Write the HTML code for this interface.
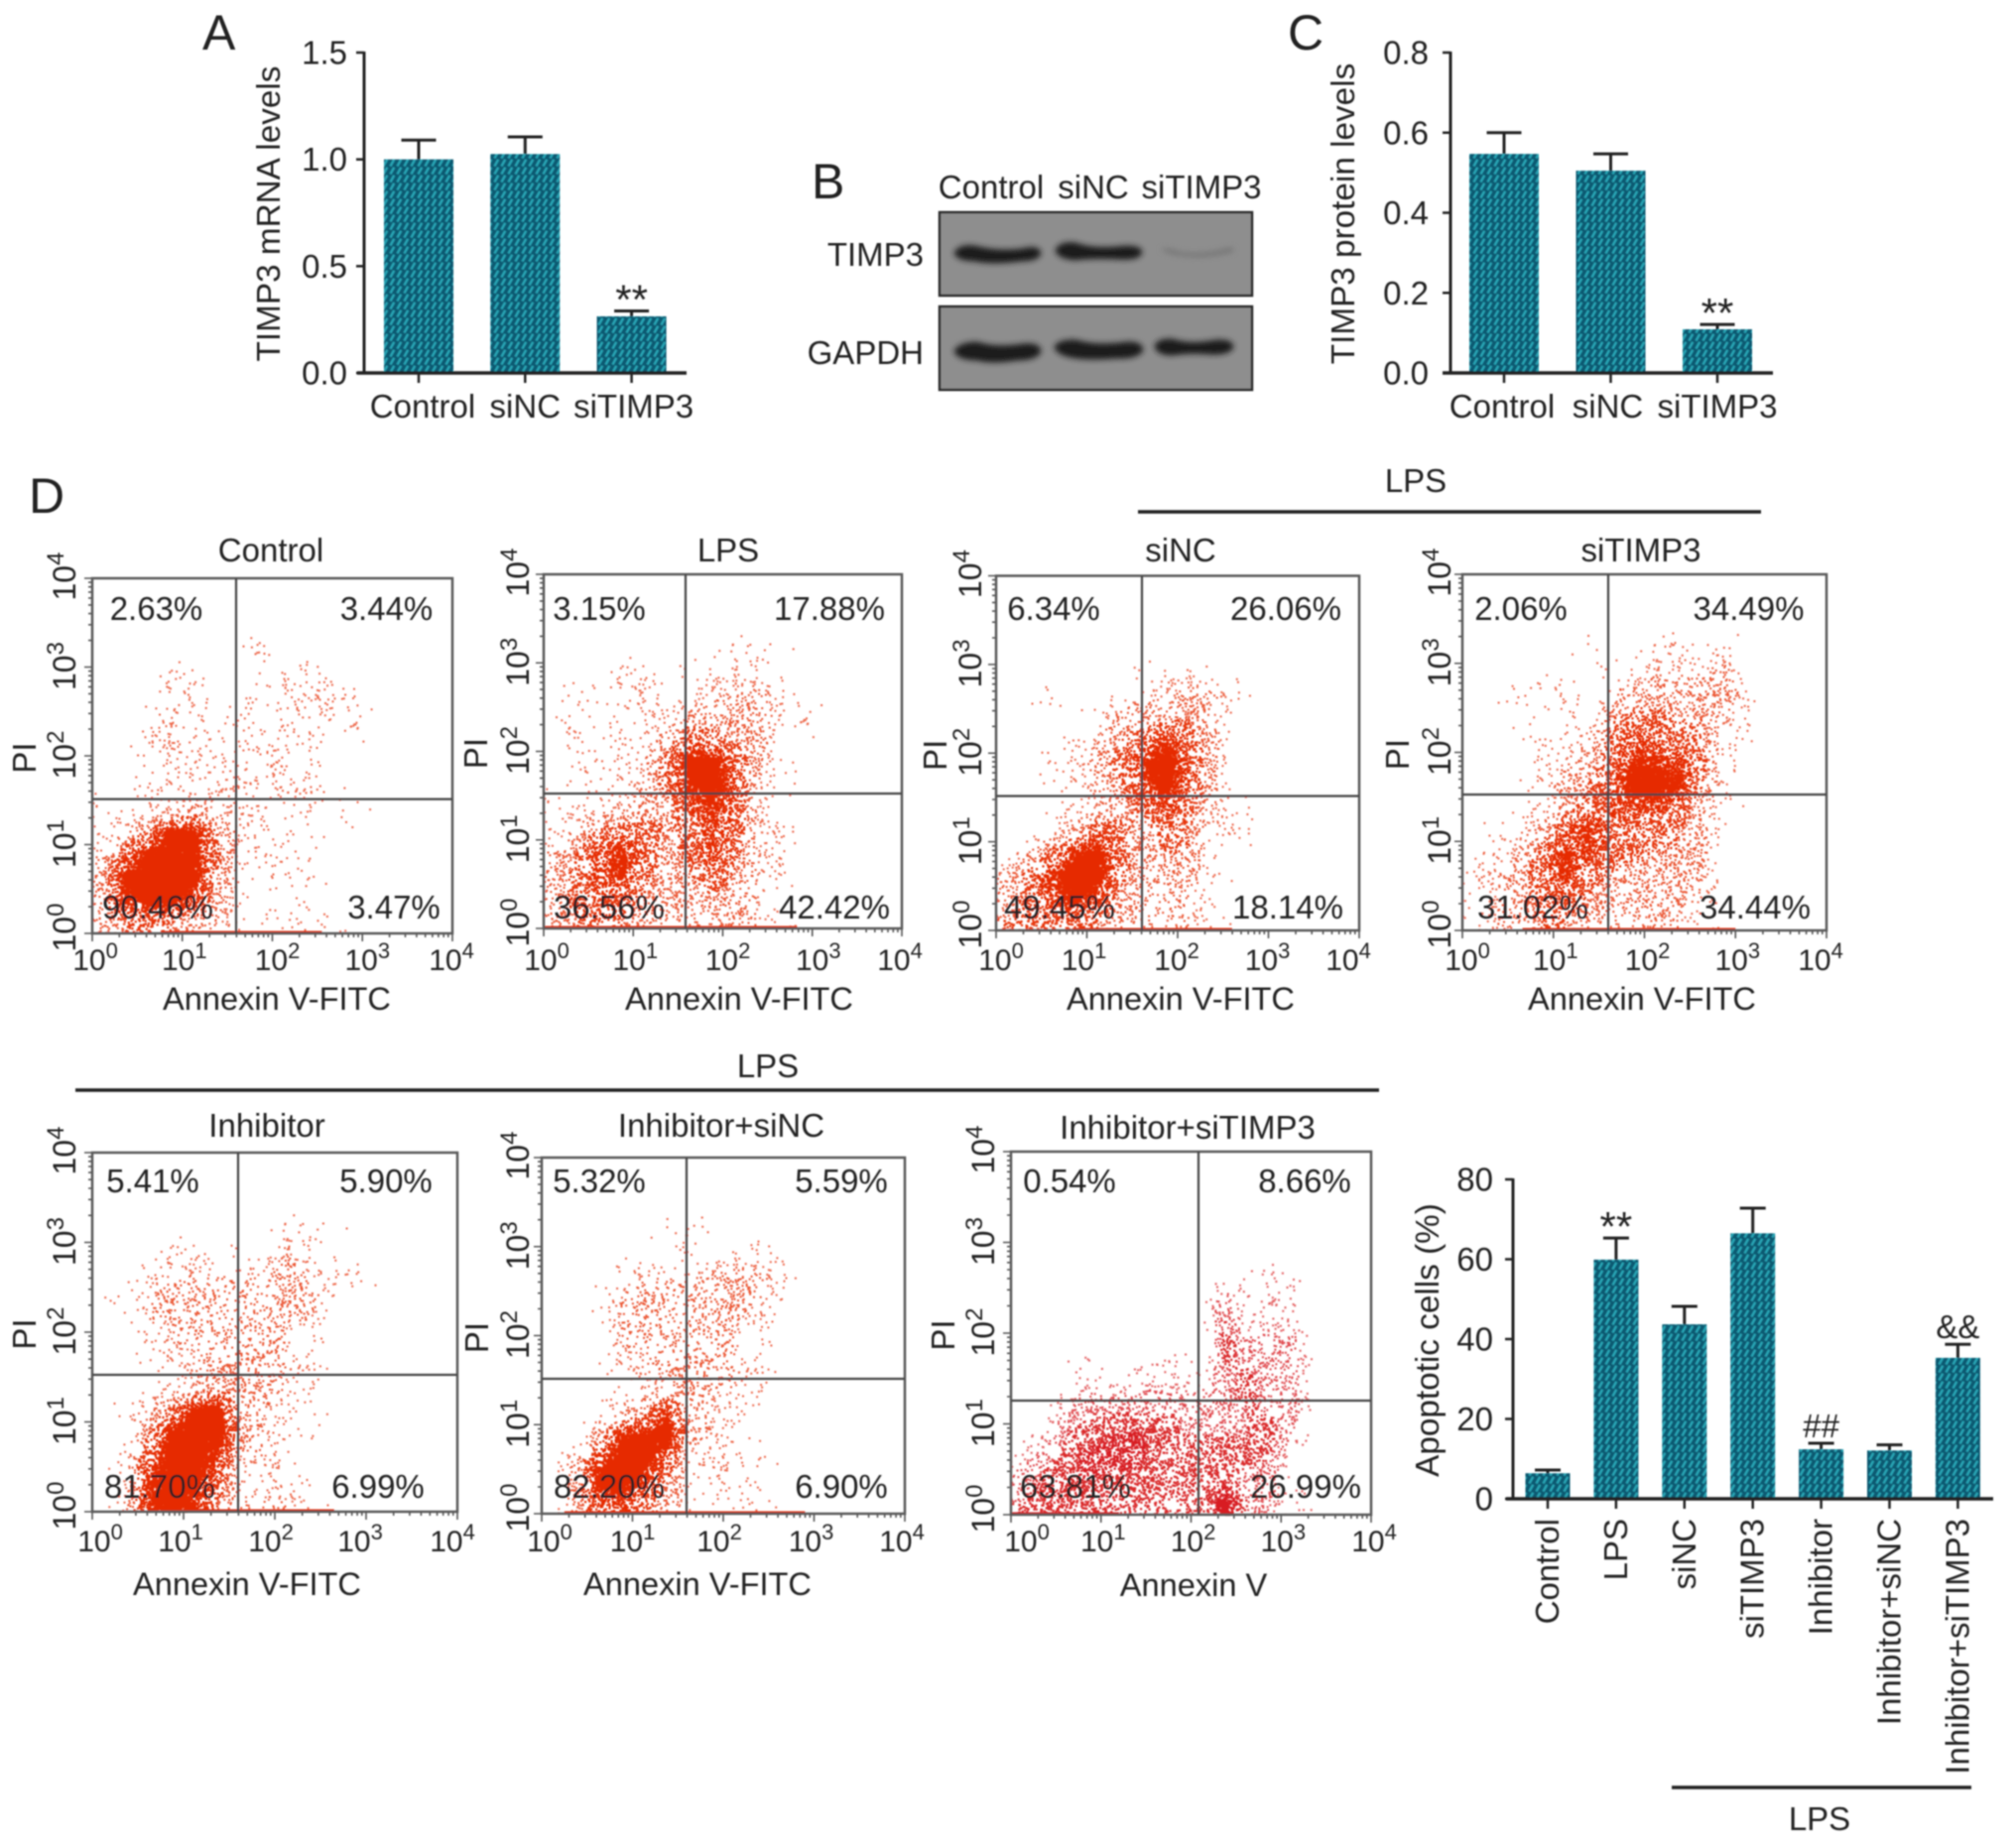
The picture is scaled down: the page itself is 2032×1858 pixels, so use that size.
<!DOCTYPE html>
<html lang="en">
<head>
<meta charset="utf-8">
<title>TIMP3 knockdown figure</title>
<style>
html,body{margin:0;padding:0;background:#fff;width:2032px;height:1858px;overflow:hidden}
svg{display:block}
text{font-family:"Liberation Sans",sans-serif;fill:#222;font-size:33px}
</style>
</head>
<body>
<svg id="figure" xmlns="http://www.w3.org/2000/svg" width="2032" height="1858" viewBox="0 0 2032 1858">
  <defs>
    <pattern id="hatch" patternUnits="userSpaceOnUse" width="7" height="8">
      <rect width="7" height="8" fill="#0b5a72"/>
      <path d="M1.5 7.5L5.2 .8" stroke="#27a5b5" stroke-width="2.3"/>
    </pattern>
    <filter id="soft" x="-2%" y="-2%" width="104%" height="104%"><feGaussianBlur stdDeviation="0.7"/></filter>
    <filter id="blotBlur" x="-20%" y="-60%" width="140%" height="220%"><feGaussianBlur stdDeviation="2.8"/></filter>
  </defs>
  <g id="art" filter="url(#soft)">
    <text x="204" y="50" style="font-size:50px">A</text>
    <text x="818" y="200" style="font-size:50px">B</text>
    <text x="1298" y="50" style="font-size:50px">C</text>
    <text x="29" y="517" style="font-size:50px">D</text>

    <g>
      <text x="999" y="200" text-anchor="middle">Control</text>
      <text x="1102" y="200" text-anchor="middle">siNC</text>
      <text x="1211" y="200" text-anchor="middle">siTIMP3</text>
      <text x="931" y="268" text-anchor="end">TIMP3</text>
      <text x="931" y="367" text-anchor="end">GAPDH</text>
      <rect x="947" y="214" width="315" height="84" fill="#8e8e8e" stroke="#2b2b2b" stroke-width="2.5"/>
      <rect x="947" y="309" width="315" height="84" fill="#8e8e8e" stroke="#2b2b2b" stroke-width="2.5"/>
      <g filter="url(#blotBlur)" fill="#1d1d1d" stroke="#1d1d1d" stroke-width="3">
        <path d="M963 255Q968 247 982 249Q1005 255 1030 252Q1046 248 1048 255Q1046 262 1030 262Q1000 266 982 262Q966 262 963 255Z"/>
        <path d="M1065 252Q1070 244 1084 246Q1100 252 1125 250Q1148 247 1150 254Q1148 262 1125 260Q1100 259 1084 261Q1067 260 1065 252Z"/>
        <path d="M1170 251Q1178 249 1190 254Q1215 257 1240 249Q1246 251 1243 254Q1215 262 1190 258Q1175 256 1170 251Z" fill="#777" stroke="none"/>
        <path d="M963 354Q968 346 985 346Q1005 352 1030 348Q1047 346 1048 354Q1045 362 1025 362Q1000 366 985 362Q966 362 963 354Z"/>
        <path d="M1064 350Q1068 343 1085 344Q1105 350 1135 346Q1150 345 1151 353Q1146 361 1125 360Q1100 362 1085 360Q1067 358 1064 350Z"/>
        <path d="M1165 349Q1168 342 1182 343Q1200 349 1225 344Q1242 343 1242 350Q1238 357 1220 356Q1200 354 1182 357Q1167 357 1165 349Z"/>
      </g>
    </g>

    <g>
      <path d="M1147 516H1775" stroke="#222" stroke-width="3.5" fill="none"/>
      <text x="1427" y="496" text-anchor="middle">LPS</text>
      <path d="M76 1099H1390" stroke="#222" stroke-width="3.5" fill="none"/>
      <text x="774" y="1086" text-anchor="middle">LPS</text>
      <path d="M1685 1802H1987" stroke="#222" stroke-width="3.5" fill="none"/>
      <text x="1834" y="1845" text-anchor="middle">LPS</text>
    </g>
  </g>
</svg>

<script>
/* ---------- bar chart data ---------- */
const categoriesA = ["Control", "siNC", "siTIMP3"];
const valuesA = [1.0, 1.025, 0.265];
const errorsA = [0.09, 0.08, 0.025];
const marksA = ["", "", "**"];
const ticksA = [0, 0.5, 1.0, 1.5];

const categoriesC = ["Control", "siNC", "siTIMP3"];
const valuesC = [0.547, 0.505, 0.109];
const errorsC = [0.053, 0.042, 0.012];
const marksC = ["", "", "**"];
const ticksC = [0, 0.2, 0.4, 0.6, 0.8];

const categoriesD = ["Control", "LPS", "siNC", "siTIMP3", "Inhibitor", "Inhibitor+siNC", "Inhibitor+siTIMP3"];
const valuesD = [6.4, 59.9, 43.7, 66.5, 12.4, 12.1, 35.3];
const errorsD = [0.8, 5.4, 4.5, 6.3, 1.5, 1.4, 3.4];
const marksD = ["", "**", "", "", "##", "", "&&"];
const ticksD = [0, 20, 40, 60, 80];

/* ---------- flow cytometry data: quadrant percentages ---------- */
const pctControl = ["2.63%", "3.44%", "90.46%", "3.47%"];
const pctLps = ["3.15%", "17.88%", "36.56%", "42.42%"];
const pctSinc = ["6.34%", "26.06%", "49.45%", "18.14%"];
const pctSitimp3 = ["2.06%", "34.49%", "31.02%", "34.44%"];
const pctInhibitor = ["5.41%", "5.90%", "81.70%", "6.99%"];
const pctInhibitorSinc = ["5.32%", "5.59%", "82.20%", "6.90%"];
const pctInhibitorSitimp3 = ["0.54%", "8.66%", "63.81%", "26.99%"];

/* Event density (0-9) in quarter-decade bins, estimated by eye.
   Outer index = row from the top (10^4 down to 10^0); inner index = column from 10^0. */
const densityControl = [[],[],[],
[0,0,0,0,0,0,0,1],
[0,0,0,1,1,0,0,0,1,1,1],
[0,0,0,1,1,0,1,1,1,2,2,1],
[0,0,1,2,1,0,1,1,1,1,1,1],
[0,0,2,2,1,1,1,1,1,1],
[0,0,0,1,2,1,1,1,2,1],
[0,0,1,1,1,1,2,1,2,2,1],
[1,0,1,2,3,2,1,1,1,1,0,1],
[1,2,5,9,9,4,2,1,1],
[2,6,9,9,9,5,1,1,1,1],
[3,9,9,9,9,4,1,0,1,1],
[3,8,9,9,7,3,1,0,0,1],
[3,4,5,4,3,2,1,1,1,1,1]];
const densityLps = [[],[],[],
[0,0,0,0,0,0,0,0,1,0,1],
[0,0,0,1,1,0,1,1,1,1],
[0,1,0,1,2,1,1,2,2,3,1],
[0,1,1,1,2,1,3,3,3,3,2,1],
[0,1,0,1,1,3,6,5,4,3,1],
[0,1,1,1,2,5,9,9,6,3,1],
[0,1,0,1,2,5,8,9,7,2,1],
[1,1,1,2,3,3,6,8,6,2],
[1,2,4,5,5,4,5,7,6,2,1],
[2,4,7,8,6,3,5,7,5,2,1],
[2,5,7,8,5,3,4,6,4,2,1],
[3,5,6,6,4,3,3,4,3,2],
[3,4,4,4,3,2,2,3,3,2,1]];
const densitySinc = [[],[],[],[],
[0,0,0,0,0,0,1,1,1],
[0,0,1,0,0,1,2,2,3,3,1],
[0,0,0,0,1,3,3,4,4,2],
[0,0,0,1,2,4,6,8,5,3],
[0,0,1,1,3,5,8,9,6,3],
[0,0,0,1,2,4,7,9,6,3],
[0,0,0,1,2,3,5,7,5,2,1],
[0,0,1,3,6,5,3,5,4,1,1],
[0,2,5,8,9,5,3,4,4,1],
[2,5,8,9,9,5,2,3,3,1],
[3,5,7,9,7,3,2,2,2,1],
[4,4,5,5,4,3,2,2,2,1]];
const densitySitimp3 = [[],[],[],
[0,0,0,0,0,1,0,0,1,1,1,1],
[0,0,0,0,0,0,1,1,2,2,2,3],
[0,0,1,1,1,0,2,3,3,3,4,4,1],
[0,0,1,0,1,0,4,5,5,4,4,2,1],
[0,0,0,1,1,2,5,7,6,5,4,1,1],
[0,0,0,1,2,3,5,8,8,7,5,1],
[0,0,0,1,3,4,6,9,9,9,4,1],
[0,0,0,1,3,5,6,7,7,5,3,1],
[0,1,1,3,6,8,6,5,5,4,3],
[0,1,2,5,8,7,5,5,4,4,3],
[1,2,3,6,8,5,4,3,3,4,2],
[1,2,3,5,6,4,3,3,3,3,2],
[1,2,3,4,4,3,2,2,3,2,1]];
const densityInhibitor = [[],[],[],
[0,0,0,0,0,0,0,0,1,0,1],
[0,0,0,1,1,0,1,0,2,1],
[0,0,1,2,2,2,2,2,3,2,1,1],
[0,1,2,3,3,2,2,2,3,3,1],
[0,0,2,2,3,2,2,2,2,2],
[0,0,1,2,2,2,2,3,2,1],
[0,0,0,1,2,3,3,3,2,1],
[0,0,0,1,2,4,3,3,2,1],
[0,1,2,5,9,9,3,2,1],
[0,0,4,9,9,9,4,2,1,1],
[0,1,6,9,9,8,2,2,1],
[0,1,8,9,9,6,1,1,1],
[0,2,8,9,8,4,2,2,2,1]];
const densityInhibitorSinc = [[],[],[],
[0,0,0,0,0,1,1],
[0,0,0,0,0,0,1,0,1,1,1],
[0,0,0,1,2,3,2,3,3,3,1],
[0,0,1,2,4,2,2,3,3,2,1],
[0,0,0,2,3,2,2,3,2,1],
[0,0,0,2,2,2,2,2,2,1],
[0,0,0,1,2,2,3,3,2,1],
[0,0,0,0,1,2,3,2,2,1],
[0,0,0,2,4,8,3,2,1],
[0,0,3,8,9,9,3,2,1],
[0,2,7,9,9,7,1,2,1,1],
[0,3,9,9,8,4,1,1,1,1],
[0,3,6,7,5,3,1,1,1,1]];
const densityInhibitorSitimp3 = [[],[],[],[],[],
[0,0,0,0,0,0,0,0,0,0,0,1,1],
[0,0,0,0,0,0,0,0,0,3,1,2,1],
[0,0,0,0,0,0,0,0,0,4,1,2,1],
[0,0,0,0,0,0,0,0,0,5,3,2,3],
[0,0,0,1,0,0,1,1,0,4,4,3,3],
[0,0,0,2,1,2,2,2,2,3,5,3,3],
[0,0,3,4,4,4,4,4,3,3,4,4,3],
[0,1,4,5,6,7,5,4,4,4,4,5,2],
[1,3,5,7,7,7,5,4,4,5,5,4],
[3,5,6,6,5,5,5,5,4,5,3,3],
[4,5,5,5,4,4,4,4,4,9,4,2,1]];

/* Events piled on the x-axis: [from decade, to decade] */
const edgeControl = [0.76, 2.55];
const edgeLps = [0, 2.83];
const edgeSinc = [0.84, 2.6];
const edgeSitimp3 = [0.66, 3];
const edgeInhibitor = [1.1, 2.65];
const edgeInhibitorSinc = [0.25, 2.9];
const edgeInhibitorSitimp3 = [0, 1.2];

const decades = [0, 1, 2, 3, 4];
const dotsPerLevel = [0, 8, 20, 36, 50, 68, 90, 125, 190, 700];

/* ---------- helpers ---------- */
const NS = "http://www.w3.org/2000/svg";
const art = document.getElementById("art");
function node(tag, attrs, parent) {
  const e = document.createElementNS(NS, tag);
  for (const k in attrs) e.setAttribute(k, attrs[k]);
  parent.appendChild(e);
  return e;
}
function txt(parent, s, x, y, anchor, rot) {
  const attrs = {x: x, y: y, "text-anchor": anchor};
  if (rot) attrs.transform = "rotate(-90 " + x + " " + y + ")";
  const t = node("text", attrs, parent);
  t.textContent = s;
  return t;
}
function powerLabel(parent, exp, x, y, rot) {
  const big = rot ? 32 : 30, small = rot ? 24 : 22;
  const attrs = {x: x, y: y, "text-anchor": "middle", style: "font-size:" + big + "px"};
  if (rot) attrs.transform = "rotate(-90 " + x + " " + y + ")";
  const t = node("text", attrs, parent);
  const a = node("tspan", {}, t);
  a.textContent = "10";
  const b = node("tspan", {dy: -12, style: "font-size:" + small + "px"}, t);
  b.textContent = String(exp);
  return t;
}

/* ---------- bar charts ---------- */
function drawBars(g, categories, values, errors, marks, ticks, fmt) {
  const yAt = v => g.bottom - (v / g.max) * (g.bottom - g.top);
  const xAt = i => g.first + i * g.step;
  const chart = node("g", {}, art);
  
  

  values.forEach((v, i) => {
    const cx = xAt(i);
    const capY = yAt(v + errors[i]);
    const err = node("path", {
      d: "M" + cx + " " + yAt(v) + "V" + capY + "M" + (cx - g.cap / 2) + " " + capY + "h" + g.cap,
      stroke: "#222", "stroke-width": 3, fill: "none"
    }, chart);
    
    
    const bar = node("rect", {x: cx - g.bar / 2, y: yAt(v), width: g.bar, height: g.bottom - yAt(v), fill: "url(#hatch)"}, chart);
    
    
    if (marks[i]) {
      const stars = marks[i].indexOf("*") >= 0;
      const m = txt(chart, marks[i], cx, stars ? capY + 3 : capY - 6, "middle");
      if (stars) m.setAttribute('style', 'font-size:42px');
      
      
    }
    const tick = node("path", {d: "M" + cx + " " + g.bottom + "v10", stroke: "#222", "stroke-width": 2.5}, chart);
    
    
    let lab;
    if (g.rotateLabels) lab = txt(chart, categories[i], cx + 11, g.labelY, "end", true);
    else lab = txt(chart, categories[i], cx + (g.labelNudge ? g.labelNudge[i] : 0), g.labelY, "middle");
    
    
  });

  const axisY = node("path", {d: "M" + g.axisX + " " + (g.top - 1) + "V" + g.bottom, stroke: "#222", "stroke-width": 3, fill: "none"}, chart);
  
  
  const axisX = node("path", {d: "M" + g.xFrom + " " + g.bottom + "H" + g.xTo, stroke: "#222", "stroke-width": 3.5, fill: "none"}, chart);
  
  

  ticks.forEach(t => {
    const mark = node("path", {d: "M" + (g.axisX - 8) + " " + yAt(t) + "H" + g.axisX, stroke: "#222", "stroke-width": 2.5}, chart);
    
    
    const lab = txt(chart, fmt(t), g.tickRight, yAt(t) + 11.5, "end");
    
    
  });

  const title = txt(chart, g.title, g.titleX + 11, g.titleY, "middle", true);
  title.setAttribute('style', 'font-size:33.3px');
  
  
}

drawBars({name: "mrna-bar-chart", top: 53, bottom: 376, max: 1.5, first: 422, step: 107.3, bar: 70, cap: 35,
  axisX: 367, xFrom: 360, xTo: 692, tickRight: 350, labelY: 421, labelNudge: [4, 0, 2],
  title: "TIMP3 mRNA levels", titleX: 271, titleY: 215.5},
  categoriesA, valuesA, errorsA, marksA, ticksA, v => v.toFixed(1));

drawBars({name: "protein-bar-chart", top: 53, bottom: 376, max: 0.8, first: 1516, step: 107.5, bar: 70, cap: 35,
  axisX: 1462, xFrom: 1454, xTo: 1787, tickRight: 1440, labelY: 421, labelNudge: [-2, -3, 0],
  title: "TIMP3 protein levels", titleX: 1354, titleY: 215.5},
  categoriesC, valuesC, errorsC, marksC, ticksC, v => v.toFixed(1));

drawBars({name: "apoptosis-bar-chart", top: 1189, bottom: 1511, max: 80, first: 1560, step: 68.9, bar: 45, cap: 26,
  axisX: 1525, xFrom: 1518, xTo: 2009, tickRight: 1505, labelY: 1531, rotateLabels: true,
  title: "Apoptotic cells (%)", titleX: 1439, titleY: 1351},
  categoriesD, valuesD, errorsD, marksD, ticksD, v => String(v));

/* ---------- flow cytometry plots ---------- */
/* Density at a fractional (column, row), interpolated between bin centres. */
function levelAt(density, cf, rf) {
  const at = (r, c) => (density[r] && density[r][c]) || 0;
  const c0 = Math.floor(cf - 0.5), r0 = Math.floor(rf - 0.5);
  const fc = cf - 0.5 - c0, fr = rf - 0.5 - r0;
  const clampR = r => Math.max(0, Math.min(15, r));
  const clampC = c => Math.max(0, Math.min(15, c));
  const a = at(clampR(r0), clampC(c0)), b = at(clampR(r0), clampC(c0 + 1));
  const c = at(clampR(r0 + 1), clampC(c0)), d = at(clampR(r0 + 1), clampC(c0 + 1));
  return (a * (1 - fc) + b * fc) * (1 - fr) + (c * (1 - fc) + d * fc) * fr;
}
function dotsAtLevel(level) {
  const i = Math.min(8, Math.floor(level)), f = level - i;
  return dotsPerLevel[i] * (1 - f) + dotsPerLevel[i + 1] * f;
}
/* Deterministic dither value in [0,1): places stipple dots only; the density arrays decide how many. */
function dither(n) {
  n = Math.imul(n ^ (n >>> 16), 0x85ebca6b);
  n = Math.imul(n ^ (n >>> 13), 0xc2b2ae35);
  return ((n ^ (n >>> 16)) >>> 0) / 4294967296;
}

function drawFlow(g, pct, density, edge) {
  const xAt = d => g.left + (d / 4) * (g.right - g.left);
  const yAt = d => g.bottom - (d / 4) * (g.bottom - g.top);
  const plot = node("g", {}, art);
  
  

  /* dots get smaller and paler as density falls, so blobs fade out instead of ending at a hard edge */
  const tiers = [
    {below: 2, size: 2, opacity: 0.7, parts: []},
    {below: 4, size: 2, opacity: 0.8, parts: []},
    {below: 6, size: 2.2, opacity: 0.95, parts: []},
    {below: 7.5, size: 2.2, opacity: 1, parts: []},
    {below: 10, size: 2.6, opacity: 1, parts: []}
  ];
  const maxPerCell = dotsPerLevel[9];
  const candidates = maxPerCell * 256;
  for (let n = 1; n <= candidates; n++) {
    const u = dither(n * 3 + 1);
    const v = dither(n * 3 + 2);
    const t = dither(n * 3 + 3);
    const level = levelAt(density, u * 16, v * 16);
    if (level <= 0 || t >= dotsAtLevel(level) / maxPerCell) continue;
    const tier = tiers.find(s => level < s.below);
    const x = xAt(u * 4) - tier.size / 2, y = yAt(4 - v * 4) - tier.size / 2;
    tier.parts.push("M" + x.toFixed(1) + " " + y.toFixed(1) + "h" + tier.size + "v" + tier.size + "h-" + tier.size + "z");
  }
  tiers.forEach(tier => {
    const dots = node("path", {d: tier.parts.join(""), fill: g.color, "fill-opacity": tier.opacity}, plot);
    
    
  });

  const pile = node("path", {d: "M" + xAt(edge[0]) + " " + (g.bottom - 1) + "H" + xAt(edge[1]), stroke: g.color, "stroke-width": 3, fill: "none"}, plot);
  
  

  let tickPath = "";
  decades.forEach(dec => {
    tickPath += "M" + xAt(dec) + " " + g.bottom + "v8M" + (g.left - 8) + " " + yAt(dec) + "h8";
    if (dec < 4) for (let k = 2; k < 10; k++) {
      const d = dec + Math.log10(k);
      tickPath += "M" + xAt(d).toFixed(1) + " " + g.bottom + "v4M" + (g.left - 4) + " " + yAt(d).toFixed(1) + "h4";
    }
  });
  const ticks = node("path", {d: tickPath, stroke: "#555", "stroke-width": 1.6, fill: "none"}, plot);
  
  

  const frame = node("rect", {x: g.left, y: g.top, width: g.right - g.left, height: g.bottom - g.top, fill: "none", stroke: "#5a5a5a", "stroke-width": 2.5}, plot);
  
  
  const gates = node("path", {d: "M" + g.gateX + " " + g.top + "V" + g.bottom + "M" + g.left + " " + g.gateY + "H" + g.right, stroke: "#444", "stroke-width": 2.2, fill: "none"}, plot);
  
  

  decades.forEach((dec, i) => {
    const xl = powerLabel(plot, dec, xAt(dec) + g.xNudge[i], g.xLabelY);
    
    
    const yNudge = [-6, -1, -1, -1, -2];
    const yl = powerLabel(plot, dec, g.yLabelX + 11, yAt(dec) + yNudge[i], true);
    
    
  });

  pct.forEach((p, i) => {
    const t = txt(plot, p, g.pctX[i], i < 2 ? g.pctTop : g.pctBottom, "middle");
    
    
  });

  const title = txt(plot, g.title, g.titleX, g.titleY, "middle");
  
  
  const xt = txt(plot, g.xTitle, g.xTitleX, g.xTitleY, "middle");
  xt.setAttribute('style', 'font-size:32.6px');
  
  
  const yt = txt(plot, "PI", g.piX + 11, yAt(2) + 2, "middle", true);
  
  
}

const RED = "#e62a04";
const CRIMSON = "#d81a20";

drawFlow({name: "control", title: "Control", color: RED, left: 93, right: 456, top: 583, bottom: 941, gateX: 238, gateY: 805.6,
  titleX: 273, titleY: 566, xTitle: "Annexin V-FITC", xTitleX: 279, xTitleY: 1018, xLabelY: 978, xNudge: [3, 2, 5, 5, -1],
  yLabelX: 65, piX: 25, pctX: [157.5, 389.5, 159, 397], pctTop: 625, pctBottom: 926}, pctControl, densityControl, edgeControl);

drawFlow({name: "lps", title: "LPS", color: RED, left: 548, right: 909, top: 579, bottom: 936, gateX: 691, gateY: 800,
  titleX: 734, titleY: 566, xTitle: "Annexin V-FITC", xTitleX: 745, xTitleY: 1018, xLabelY: 978, xNudge: [3, 2, 5, 6, -2],
  yLabelX: 522, piX: 480, pctX: [604, 836, 614, 841], pctTop: 625, pctBottom: 926}, pctLps, densityLps, edgeLps);

drawFlow({name: "sinc", title: "siNC", color: RED, left: 1004, right: 1370, top: 580.5, bottom: 938, gateX: 1151, gateY: 802.5,
  titleX: 1190, titleY: 566, xTitle: "Annexin V-FITC", xTitleX: 1190, xTitleY: 1018, xLabelY: 978, xNudge: [5, -3, -1, -1, -11],
  yLabelX: 978, piX: 943, pctX: [1062, 1296, 1068, 1298], pctTop: 625, pctBottom: 926}, pctSinc, densitySinc, edgeSinc);

drawFlow({name: "sitimp3", title: "siTIMP3", color: RED, left: 1474, right: 1841, top: 579, bottom: 938, gateX: 1621, gateY: 801,
  titleX: 1654, titleY: 566, xTitle: "Annexin V-FITC", xTitleX: 1655, xTitleY: 1018, xLabelY: 978, xNudge: [5, 2, 3, 2, -6],
  yLabelX: 1451, piX: 1409, pctX: [1533, 1762.5, 1545, 1769], pctTop: 625, pctBottom: 926}, pctSitimp3, densitySitimp3, edgeSitimp3);

drawFlow({name: "inhibitor", title: "Inhibitor", color: RED, left: 93, right: 461, top: 1162, bottom: 1524, gateX: 240, gateY: 1386,
  titleX: 269, titleY: 1146, xTitle: "Annexin V-FITC", xTitleX: 249, xTitleY: 1608, xLabelY: 1564, xNudge: [8, -3, -4, -6, -5],
  yLabelX: 65, piX: 25, pctX: [154, 389, 161, 381], pctTop: 1202, pctBottom: 1510}, pctInhibitor, densityInhibitor, edgeInhibitor);

drawFlow({name: "inhibitor-sinc", title: "Inhibitor+siNC", color: RED, left: 546, right: 912, top: 1167, bottom: 1526, gateX: 692, gateY: 1390,
  titleX: 727, titleY: 1146, xTitle: "Annexin V-FITC", xTitleX: 703, xTitleY: 1608, xLabelY: 1564, xNudge: [8, 0, -4, -3, -3],
  yLabelX: 522, piX: 481, pctX: [604, 848, 614, 848], pctTop: 1202, pctBottom: 1510}, pctInhibitorSinc, densityInhibitorSinc, edgeInhibitorSinc);

drawFlow({name: "inhibitor-sitimp3", title: "Inhibitor+siTIMP3", color: CRIMSON, left: 1019, right: 1382, top: 1161, bottom: 1527, gateX: 1208, gateY: 1412,
  titleX: 1197, titleY: 1148, xTitle: "Annexin V", xTitleX: 1203, xTitleY: 1609, xLabelY: 1564, xNudge: [16, 2, 2, 2, 3],
  yLabelX: 991, piX: 951, pctX: [1078, 1315, 1084, 1316], pctTop: 1202, pctBottom: 1510}, pctInhibitorSitimp3, densityInhibitorSitimp3, edgeInhibitorSitimp3);
</script>
</body>
</html>
